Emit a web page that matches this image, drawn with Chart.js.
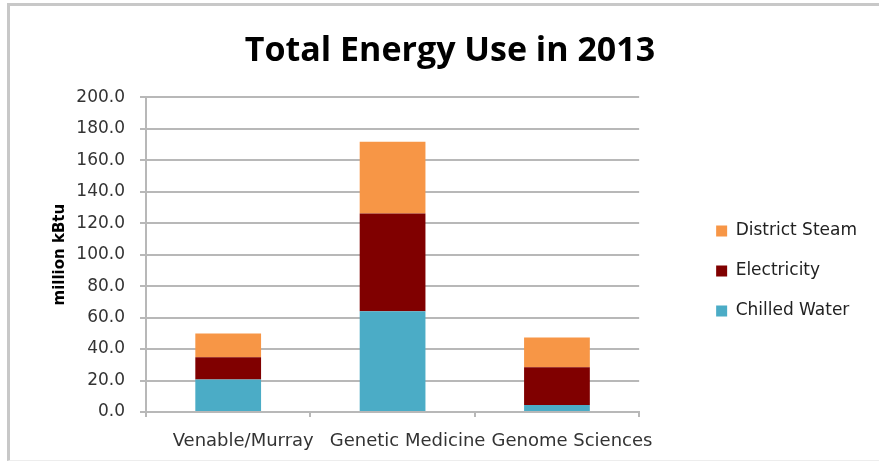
<!DOCTYPE html>
<html>
<head>
<meta charset="utf-8">
<script src="https://cdn.jsdelivr.net/npm/chart.js@4"></script>
<style>
  html, body { margin: 0; padding: 0; background: #fff; }
  #wrap { position: relative; width: 879px; height: 462px; overflow: hidden; }
  #frame {
    position: absolute; left: 7px; top: 3px; right: 0; bottom: 1px;
    border-left: 3px solid #c8c8c8; border-top: 3px solid #c8c8c8;
    border-bottom: 1px solid #ededed;
  }
  canvas { position: absolute; left: 0; top: 0; }
</style>
</head>
<body>
<div id="wrap">
  <div id="frame"></div>
  <canvas id="chart" width="879" height="462"></canvas>
</div>
<script>
// Buildings and their 2013 energy use by source (million kBtu)
const buildings = ['Venable/Murray', 'Genetic Medicine', 'Genome Sciences'];
const chilledWater = [20.7, 64.0, 4.4];
const electricity = [14.1, 62.1, 24.1];
const districtSteam = [15.1, 45.6, 18.8];

// Value axis range and step
const yMin = 0;
const yMax = 200;
const yStep = 20;

const gridGrey = '#b8b8b8';
const textFont = '"DejaVu Sans", sans-serif';

new Chart(document.getElementById('chart'), {
  type: 'bar',
  data: {
    labels: buildings,
    datasets: [
      { label: 'Chilled Water', data: chilledWater, backgroundColor: '#4BACC6' },
      { label: 'Electricity', data: electricity, backgroundColor: '#800000' },
      { label: 'District Steam', data: districtSteam, backgroundColor: '#F79646' }
    ]
  },
  options: {
    responsive: false,
    animation: false,
    devicePixelRatio: 1,
    layout: { padding: { left: 33, right: 12, top: 0, bottom: 10 } },
    datasets: { bar: { categoryPercentage: 1, barPercentage: 0.4 } },
    plugins: {
      title: {
        display: true,
        text: 'Total Energy Use in 2013',
        color: '#000',
        font: { family: '"Open Sans", sans-serif', size: 34, weight: 'bold', lineHeight: 1.2 },
        padding: { top: 31, bottom: 25.5 }
      },
      legend: {
        position: 'right',
        reverse: true,
        labels: {
          boxWidth: 11,
          boxHeight: 11,
          padding: 23,
          color: '#222',
          font: { family: textFont, size: 17 }
        },
        // empty title used as a spacer above the legend entries
        title: { display: true, text: '', font: { size: 10 }, padding: { top: 78, bottom: 0 } }
      },
      tooltip: { enabled: false }
    },
    scales: {
      x: {
        stacked: true,
        grid: { display: true, drawOnChartArea: false, drawTicks: true, tickLength: 5, color: gridGrey, lineWidth: 2 },
        border: { display: true, color: gridGrey, width: 2 },
        ticks: {
          color: '#333',
          padding: 14,
          labelOffset: 15,
          autoSkip: false,
          maxRotation: 0,
          minRotation: 0,
          font: { family: textFont, size: 18 }
        },
        afterFit(scale) { scale.height = 40; }
      },
      y: {
        stacked: true,
        min: yMin,
        max: yMax,
        ticks: {
          stepSize: yStep,
          padding: 15,
          color: '#333',
          font: { family: textFont, size: 17 },
          callback: (v) => Number(v).toFixed(1)
        },
        grid: { color: gridGrey, lineWidth: 2, tickLength: 6 },
        border: { color: gridGrey, width: 2 },
        title: {
          display: true,
          text: 'million kBtu',
          color: '#000',
          font: { family: textFont, size: 15, weight: 'bold' },
          padding: { top: 18, bottom: 0 }
        },
        afterFit(scale) { scale.width = 113; }
      },
      // hidden gutter between the plot and the legend
      gap: {
        type: 'linear',
        axis: 'y',
        position: 'right',
        display: false,
        afterFit(scale) { scale.width = 54; }
      }
    }
  }
});
</script>
</body>
</html>
